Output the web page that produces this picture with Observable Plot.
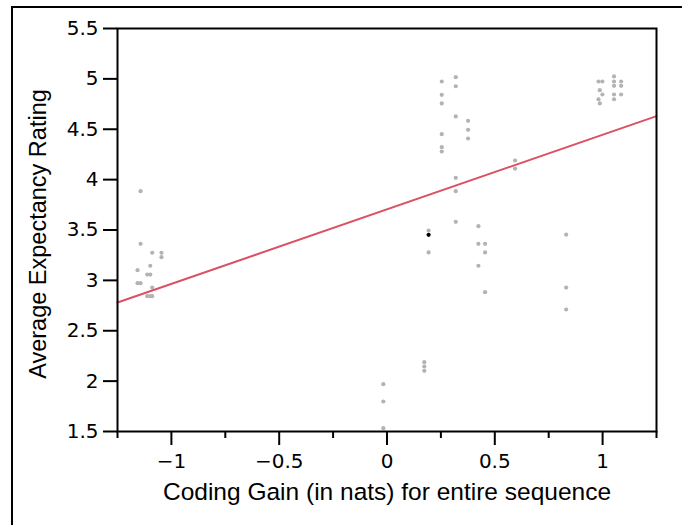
<!DOCTYPE html>
<html>
<head>
<meta charset="utf-8">
<script src="https://cdn.jsdelivr.net/npm/d3@7"></script>
<script src="https://cdn.jsdelivr.net/npm/@observablehq/plot@0.6"></script>
<style>
  html, body { margin: 0; padding: 0; background: #fff; width: 682px; height: 525px; overflow: hidden; }
  #wrap { position: relative; width: 682px; height: 525px; }
  #border { position: absolute; left: 11px; top: 6px; width: 720px; height: 600px; border: 2px solid #000; box-sizing: border-box; }
  #chart { position: absolute; left: 0; top: 0; }
</style>
</head>
<body>
<div id="wrap"><div id="border"></div><div id="chart"></div></div>
<script>
// Gray points: coding gain (x) and average expectancy rating (y)
const gainX = [
  -1.143, -1.143, -1.089, -1.046, -1.046, -1.098, -1.157, -1.112, -1.098, -1.157, -1.143, -1.089, -1.112, -1.098, -1.089,
  -0.017, -0.017, -0.017,
  0.173, 0.173, 0.173,
  0.193, 0.193,
  0.254, 0.254, 0.254, 0.254, 0.254, 0.254,
  0.319, 0.319, 0.319, 0.319, 0.319, 0.319,
  0.376, 0.376, 0.376,
  0.424, 0.424, 0.424,
  0.455, 0.455, 0.455,
  0.594, 0.594,
  0.831, 0.831, 0.831,
  0.981, 0.999, 0.987, 0.999, 0.981, 0.987,
  1.053, 1.053, 1.053, 1.053, 1.053,
  1.086, 1.086, 1.086
];
const ratingY = [
  3.885, 3.363, 3.274, 3.274, 3.23, 3.145, 3.101, 3.058, 3.058, 2.972, 2.972, 2.929, 2.843, 2.843, 2.843,
  1.970, 1.798, 1.533,
  2.188, 2.145, 2.102,
  3.495, 3.277,
  4.974, 4.842, 4.756, 4.451, 4.322, 4.279,
  5.017, 4.927, 4.627, 4.018, 3.885, 3.581,
  4.584, 4.494, 4.408,
  3.538, 3.363, 3.145,
  3.363, 3.277, 2.883,
  4.19, 4.11,
  3.455, 2.929, 2.711,
  4.974, 4.974, 4.888, 4.845, 4.798, 4.756,
  5.024, 4.974, 4.931, 4.845, 4.798,
  4.974, 4.931, 4.845
];
// Highlighted (black) point
const highlightX = [0.193];
const highlightY = [3.452];
// Regression line endpoints
const fitX = [-1.25, 1.25];
const fitY = [2.78, 4.63];
// Ticks
const yTicks = [1.5, 2, 2.5, 3, 3.5, 4, 4.5, 5, 5.5];
const xMajorTicks = [-1, -0.5, 0, 0.5, 1];
const xMinorTicks = [-1.25, -0.75, -0.25, 0.25, 0.75, 1.25];

const points = gainX.map((x, i) => ({x, y: ratingY[i]}));
const highlight = highlightX.map((x, i) => ({x, y: highlightY[i]}));
const fit = fitX.map((x, i) => ({x, y: fitY[i]}));

const titleFont = "Liberation Sans, Arial, Helvetica, sans-serif";
const fmt = d => String(d).replace("-", "\u2212");

const chart = Plot.plot({
  width: 682,
  height: 525,
  marginLeft: 117,
  marginRight: 26,
  marginTop: 28,
  marginBottom: 94,
  style: {fontFamily: "DejaVu Sans, sans-serif", background: "transparent", color: "#000"},
  x: {domain: [-1.25, 1.25]},
  y: {domain: [1.5, 5.5]},
  marks: [
    Plot.axisY({ticks: yTicks, tickSize: 14, tickPadding: 5, fontSize: 20, strokeWidth: 2, tickFormat: fmt, label: null}),
    Plot.axisX({ticks: xMajorTicks, tickSize: 14, tickPadding: 8, fontSize: 20, strokeWidth: 2, tickFormat: fmt, label: null}),
    Plot.axisX({ticks: xMinorTicks, tickSize: 7, tickFormat: () => "", strokeWidth: 2, label: null}),
    Plot.dot(points, {x: "x", y: "y", r: 2.1, fill: "#b3b3b3", stroke: null}),
    Plot.dot(highlight, {x: "x", y: "y", r: 2.1, fill: "#000", stroke: null}),
    Plot.line(fit, {x: "x", y: "y", stroke: "#dc5064", strokeWidth: 2}),
    Plot.frame({stroke: "#000", strokeWidth: 2}),
    Plot.text(["Coding Gain (in nats) for entire sequence"], {frameAnchor: "bottom", dy: 61, lineAnchor: "middle", textAnchor: "middle", fontSize: 24.5, fontFamily: titleFont, fill: "#000"}),
    Plot.text(["Average Expectancy Rating"], {frameAnchor: "left", dx: -79, dy: 4, rotate: -90, lineAnchor: "middle", textAnchor: "middle", fontSize: 23.5, fontFamily: titleFont, fill: "#000"})
  ]
});
document.getElementById("chart").appendChild(chart);
</script>
</body>
</html>
